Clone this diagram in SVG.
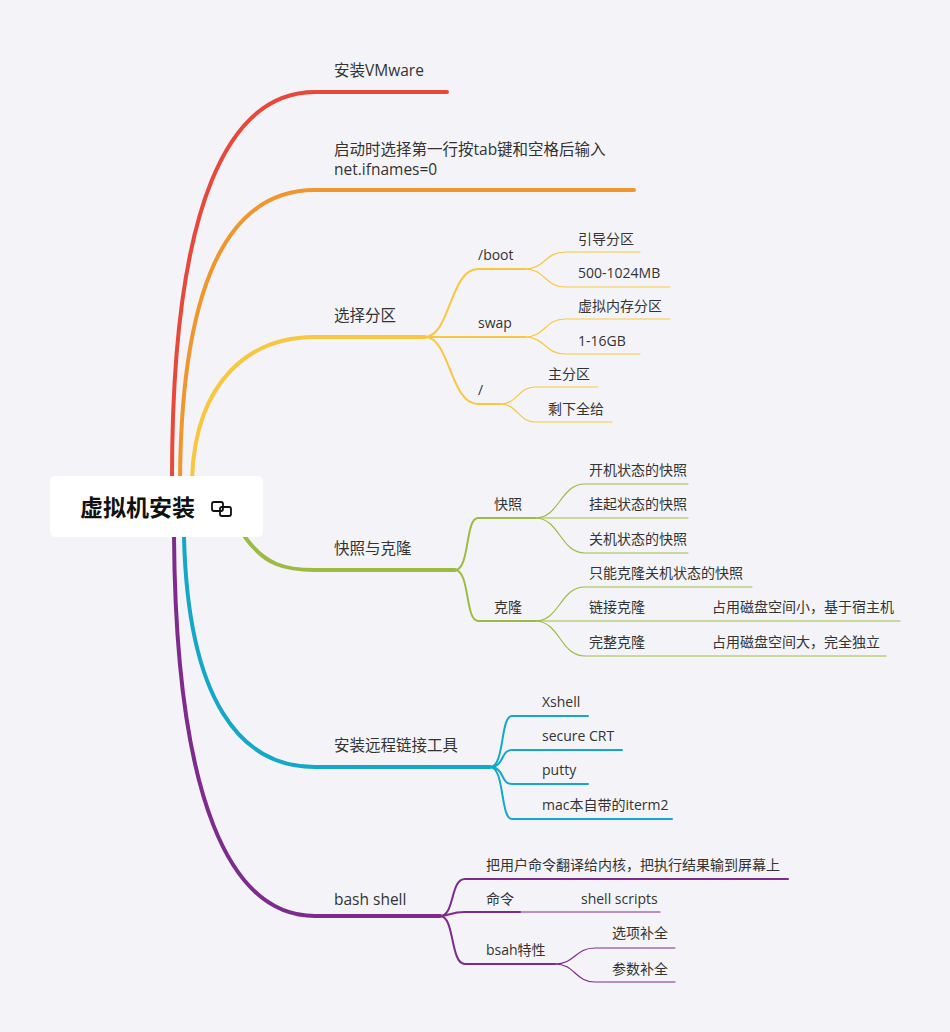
<svg xmlns="http://www.w3.org/2000/svg" width="950" height="1032" viewBox="0 0 950 1032">
<style>
text{font-family:"Open Sans","Noto Sans CJK SC",sans-serif;font-size:14px;fill:#333}
.L text{font-size:15.5px}
.c path{fill:none;stroke-linecap:round}
.r{stroke:#E8483A}.o{stroke:#F0962E}.y{stroke:#F8C73F}.g{stroke:#9DBB42}.b{stroke:#14A8C8}.p{stroke:#7D2B8C}
.m{stroke-width:4}.s{stroke-width:2}.t{stroke-width:1.2}
</style>
<rect width="950" height="1032" fill="#F4F4F8"/>
<g class="c" id="connectors">
<path class="r m" d="M172,478 C172,200 230,92 315,92 L447,92"/>
<path class="o m" d="M180,478 C182,260 240,190 315,190 L634,190"/>
<path class="y m" d="M192,478 C196,380 250,337 315,337 L425,337"/>
<path class="g m" d="M245,537 C265,565 285,570 315,570 L455,570"/>
<path class="b m" d="M184,537 C188,700 240,767 315,767 L490,767"/>
<path class="p m" d="M174,537 C176,800 230,916 315,916 L440,916"/>
<path class="y s" d="M425,337 C450,337 450,269 478,269 L525,269"/>
<path class="y s" d="M425,337 L525,337"/>
<path class="y s" d="M425,337 C450,337 450,404 478,404 L500,404"/>
<path class="y t" d="M525,269 C545,269 545,252 565,252 L640,252"/>
<path class="y t" d="M525,269 C545,269 545,287 565,287 L670,287"/>
<path class="y t" d="M525,337 C545,337 545,319 565,319 L670,319"/>
<path class="y t" d="M525,337 C545,337 545,354 565,354 L640,354"/>
<path class="y t" d="M500,404 C518,404 518,387 535,387 L598,387"/>
<path class="y t" d="M500,404 C518,404 518,422 535,422 L612,422"/>
<path class="g s" d="M455,570 C470,570 465,518 478,518 L535,518"/>
<path class="g s" d="M455,570 C470,570 465,621 478,621 L535,621"/>
<path class="g t" d="M535,518 C560,518 560,484 585,484 L688,484"/>
<path class="g t" d="M535,518 L688,518"/>
<path class="g t" d="M535,518 C560,518 560,553 585,553 L688,553"/>
<path class="g t" d="M535,621 C560,621 560,587 585,587 L752,587"/>
<path class="g t" d="M535,621 L900,621"/>
<path class="g t" d="M535,621 C560,621 560,656 585,656 L886,656"/>
<path class="b s" d="M490,767 C505,767 500,716 512,716 L588,716"/>
<path class="b s" d="M490,767 C505,767 500,750 512,750 L622,750"/>
<path class="b s" d="M490,767 C505,767 500,784 512,784 L588,784"/>
<path class="b s" d="M490,767 C505,767 500,819 512,819 L672,819"/>
<path class="p s" d="M440,916 C455,916 450,879 465,879 L788,879"/>
<path class="p s" d="M440,916 C450,916 450,912 465,912 L520,912"/>
<path class="p t" d="M520,912 L660,912"/>
<path class="p s" d="M440,916 C455,916 450,964 465,964 L555,964"/>
<path class="p t" d="M555,964 C575,964 575,948 595,948 L675,948"/>
<path class="p t" d="M555,964 C575,964 575,982 595,982 L675,982"/>
</g>
<g id="root">
<rect x="50" y="476" width="213" height="61" rx="5" fill="#fff"/>
<text x="80" y="516" style="font-size:23px;font-weight:bold;fill:#111">虚拟机安装</text>
<g fill="none" stroke="#111" stroke-width="1.8"><rect x="212" y="502" width="11" height="9" rx="2"/><rect x="220" y="507" width="11" height="9" rx="2"/></g>
</g>
<g class="L">
<g id="n1"><text x="334" y="76">安装VMware</text></g>
<g id="n2"><text x="334" y="155">启动时选择第一行按tab键和空格后输入</text><text x="334" y="175">net.ifnames=0</text></g>
<g id="n3"><text x="334" y="321">选择分区</text></g>
<g id="n4"><text x="334" y="554">快照与克隆</text></g>
<g id="n5"><text x="334" y="751">安装远程链接工具</text></g>
<g id="n6"><text x="334" y="905">bash shell</text></g>
</g>
<g id="n3c">
<text x="478" y="260">/boot</text><text x="478" y="328">swap</text><text x="478" y="395">/</text>
<text x="578" y="244">引导分区</text><text x="578" y="278">500-1024MB</text><text x="578" y="311">虚拟内存分区</text><text x="578" y="346">1-16GB</text><text x="548" y="379">主分区</text><text x="548" y="414">剩下全给</text></g>
<g id="n4c">
<text x="494" y="509">快照</text><text x="494" y="612">克隆</text>
<text x="589" y="475">开机状态的快照</text><text x="589" y="509">挂起状态的快照</text><text x="589" y="544">关机状态的快照</text>
<text x="589" y="578">只能克隆关机状态的快照</text><text x="589" y="612">链接克隆</text><text x="712" y="612">占用磁盘空间小，基于宿主机</text>
<text x="589" y="647">完整克隆</text><text x="712" y="647">占用磁盘空间大，完全独立</text></g>
<g id="n5c">
<text x="542" y="707">Xshell</text><text x="542" y="741">secure CRT</text><text x="542" y="775">putty</text><text x="542" y="810">mac本自带的iterm2</text></g>
<g id="n6c">
<text x="486" y="870">把用户命令翻译给内核，把执行结果输到屏幕上</text><text x="486" y="904">命令</text><text x="581" y="904">shell scripts</text>
<text x="486" y="955">bsah特性</text><text x="612" y="938">选项补全</text><text x="612" y="974">参数补全</text></g>
</svg>
